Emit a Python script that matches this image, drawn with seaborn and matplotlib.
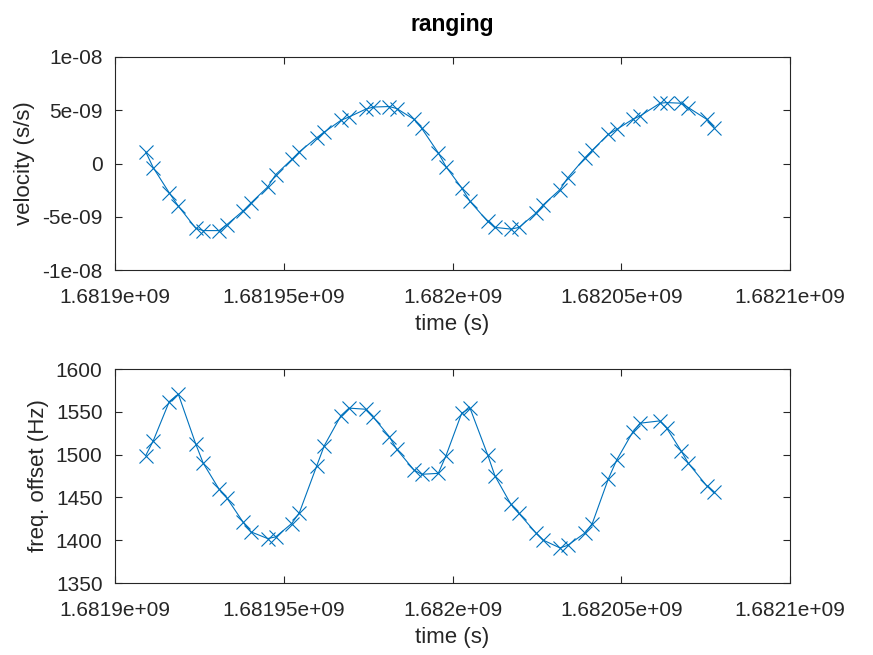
import matplotlib
matplotlib.use("Agg")
import matplotlib.pyplot as plt
import seaborn as sns
import pandas as pd

time_s = [1681909100, 1681911350, 1681916090, 1681918760, 1681923910, 1681926160,
          1681930820, 1681933100, 1681938020, 1681940300, 1681945250, 1681947620,
          1681952360, 1681954610, 1681959760, 1681962020, 1681966960, 1681969330,
          1681974280, 1681976530, 1681981280, 1681983470, 1681988590, 1681990880,
          1681995790, 1681998080, 1682002730, 1682005190, 1682010430, 1682012590,
          1682017330, 1682019700, 1682024740, 1682026910, 1682031850, 1682034140,
          1682039260, 1682041420, 1682046160, 1682048650, 1682053390, 1682055560,
          1682061480, 1682063470, 1682067710, 1682069870, 1682075320, 1682077480]

velocity = [1.1e-9, -0.4e-9, -2.76e-9, -4.0e-9, -6.07e-9, -6.3e-9, -6.3e-9, -5.75e-9,
            -4.43e-9, -3.7e-9, -2.2e-9, -1.04e-9, 0.38e-9, 1.1e-9, 2.42e-9, 2.95e-9,
            4.06e-9, 4.37e-9, 5.1e-9, 5.3e-9, 5.35e-9, 5.16e-9, 4.15e-9, 3.3e-9,
            1.0e-9, -0.3e-9, -2.3e-9, -3.56e-9, -5.44e-9, -6.0e-9, -6.16e-9, -6.0e-9,
            -4.65e-9, -3.87e-9, -2.45e-9, -1.35e-9, 0.54e-9, 1.25e-9, 2.74e-9, 3.2e-9,
            4.15e-9, 4.46e-9, 5.66e-9, 5.72e-9, 5.66e-9, 5.25e-9, 4.15e-9, 3.37e-9]

freq_offset = [1498.8, 1516.3, 1562.0, 1570.7, 1512.5, 1489.8, 1459.7, 1449.6,
               1420.7, 1409.7, 1401.9, 1403.9, 1419.5, 1432.0, 1486.7, 1510.5,
               1545.6, 1554.3, 1553.0, 1543.7, 1521.0, 1506.2, 1482.0, 1477.0,
               1478.1, 1498.8, 1548.4, 1554.3, 1499.6, 1475.0, 1441.8, 1431.2,
               1408.5, 1400.0, 1391.0, 1394.0, 1408.5, 1419.5, 1471.5, 1493.7,
               1526.2, 1536.7, 1539.4, 1530.9, 1504.6, 1489.9, 1463.6, 1456.6]

x_ticks = [1.6819e9, 1.68195e9, 1.682e9, 1.68205e9, 1.6821e9]
x_ticklabels = ["1.6819e+09", "1.68195e+09", "1.682e+09", "1.68205e+09", "1.6821e+09"]
v_ticks = [-1e-8, -5e-9, 0, 5e-9, 1e-8]
v_ticklabels = ["-1e-08", "-5e-09", "0", "5e-09", "1e-08"]
f_ticks = [1350, 1400, 1450, 1500, 1550, 1600]
f_ticklabels = ["1350", "1400", "1450", "1500", "1550", "1600"]

sns.set_theme(style="white")
plt.rcParams["font.family"] = ["Liberation Sans", "DejaVu Sans"]
TXT = "#262626"
BLUE = "#0072BD"

df = pd.DataFrame({"time": time_s, "velocity": velocity, "freq": freq_offset})

fig = plt.figure(figsize=(8.73, 6.55), dpi=100)
ax1 = fig.add_axes([115 / 873, 1 - 270 / 655, 675 / 873, 213 / 655])
ax2 = fig.add_axes([115 / 873, 1 - 583 / 655, 675 / 873, 214 / 655])

line_kws = dict(color=BLUE, marker="x", markersize=10.5, markeredgecolor=BLUE,
                markeredgewidth=0.8, linewidth=0.8, estimator=None)

sns.lineplot(data=df, x="time", y="velocity", ax=ax1, **line_kws)
sns.lineplot(data=df, x="time", y="freq", ax=ax2, **line_kws)

for ax, yt, ytl, ylim, ylab in [
    (ax1, v_ticks, v_ticklabels, (-1e-8, 1e-8), "velocity (s/s)"),
    (ax2, f_ticks, f_ticklabels, (1350, 1600), "freq. offset (Hz)"),
]:
    ax.set_xlim(1.6819e9, 1.6821e9)
    ax.set_ylim(*ylim)
    ax.set_xticks(x_ticks)
    ax.set_xticklabels(x_ticklabels)
    ax.set_yticks(yt)
    ax.set_yticklabels(ytl)
    ax.tick_params(direction="in", length=5, width=0.8, color=TXT, labelsize=15,
                   labelcolor=TXT, top=True, right=True, bottom=True, left=True)
    ax.tick_params(axis="y", pad=9)
    ax.tick_params(axis="x", pad=13)
    for sp in ax.spines.values():
        sp.set_visible(True)
        sp.set_color(TXT)
        sp.set_linewidth(0.8)
    ax.set_xlabel("time (s)", fontsize=16, color=TXT, labelpad=5)
    ax.set_ylabel(ylab, fontsize=16, color=TXT, labelpad=5)
    ax.grid(False)

fig.text(452 / 873, 1 - 25 / 655, "ranging", ha="center", va="center",
         fontsize=16.5, fontweight="bold", color="black")

fig.savefig("out.png", dpi=100)
